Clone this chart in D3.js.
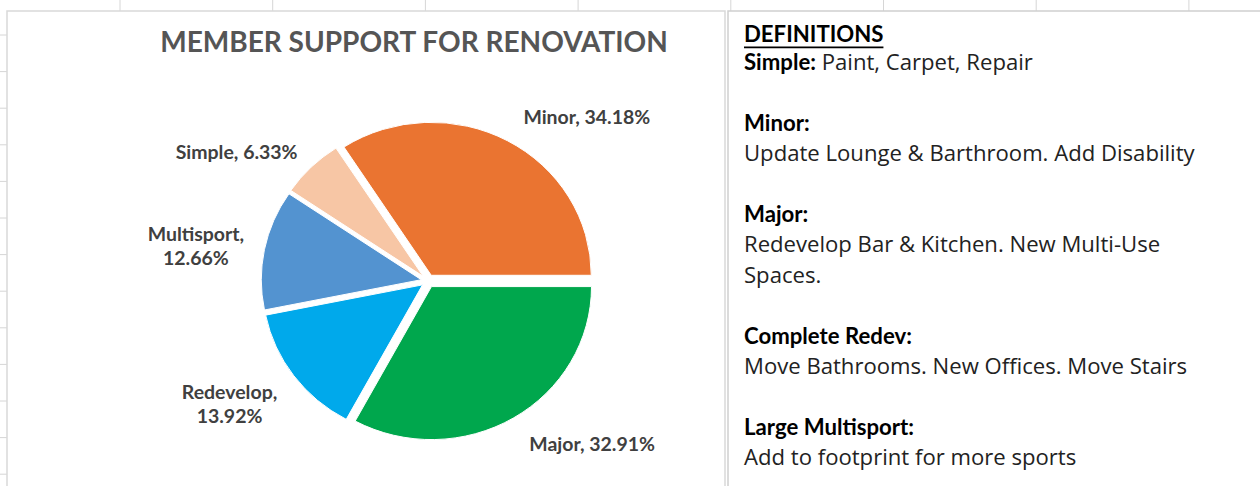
<!DOCTYPE html>
<html><head><meta charset="utf-8">
<script src="https://cdn.jsdelivr.net/npm/d3@7"></script>
<style>html,body{margin:0;padding:0;background:#fff;overflow:hidden}</style>
</head><body>
<svg id="chart" width="1260" height="486"></svg>
<script>
// ---------- data ----------
const chartTitle = "MEMBER SUPPORT FOR RENOVATION";
const categories = ["Simple", "Minor", "Major", "Redevelop", "Multisport"];
const values = [6.33, 34.18, 32.91, 13.92, 12.66];
const sliceColors = ["#F7C6A5", "#EA7431", "#00A74D", "#00A9EB", "#5393D0"];
const labelWrap = [false, false, false, true, true];
const labelAngleShift = [-10, 14, -13.5, 4, -2]; // degrees, best-fit nudges
const defHeading = "DEFINITIONS";
const defTerms = ["Simple:", "Minor:", "Major:", "Complete Redev:", "Large Multisport:"];
const defTexts = [
  ["Paint, Carpet, Repair"],
  ["Update Lounge & Barthroom. Add Disability"],
  ["Redevelop Bar & Kitchen. New Multi-Use", "Spaces."],
  ["Move Bathrooms. New Offices. Move Stairs"],
  ["Add to footprint for more sports"]
];

// ---------- setup ----------
const svg = d3.select("#chart");
const gridColor = "#d6d6d6";

function measure(str, family, weight, size) {
  const t = svg.append("text").attr("font-family", family).attr("font-weight", weight)
    .attr("font-size", size).text(str);
  const w = t.node().getComputedTextLength();
  t.remove();
  return w;
}
function fitSize(str, family, weight, target) {
  return 20 * target / measure(str, family, weight, 20);
}

// spreadsheet grid stubs
const colX = d3.range(8).map(i => 120 + i * 152.7);
const rowY = d3.range(13).map(i => 35 + i * 36.6);
svg.append("g").selectAll("line").data(colX).join("line")
  .attr("x1", d => d).attr("x2", d => d).attr("y1", 0).attr("y2", 12)
  .attr("stroke", gridColor).attr("stroke-width", 1);
svg.append("g").selectAll("line").data(rowY).join("line")
  .attr("x1", 0).attr("x2", 8).attr("y1", d => d).attr("y2", d => d)
  .attr("stroke", gridColor).attr("stroke-width", 1);

// boxes
svg.append("rect").attr("x", 7).attr("y", 11).attr("width", 718).attr("height", 520)
  .attr("fill", "#fff").attr("stroke", "#d9d9d9").attr("stroke-width", 1.5);
svg.append("rect").attr("x", 728).attr("y", 11).attr("width", 600).attr("height", 520)
  .attr("fill", "#fff").attr("stroke", "#cfcfcf").attr("stroke-width", 1.5);

// ---------- title ----------
const chartFont = "Lato, 'Open Sans', sans-serif";
const titleSize = fitSize(chartTitle, chartFont, 700, 508);
svg.append("text").attr("x", 414).attr("y", 52)
  .attr("text-anchor", "middle").attr("font-family", chartFont).attr("font-weight", 700)
  .attr("font-size", titleSize).attr("fill", "#555555").text(chartTitle);

// ---------- pie ----------
const cx = 428, cy = 281, r = 153, sx = 1.046, explode = 6.5;
const data = categories.map((c, i) => ({ cat: c, value: values[i], color: sliceColors[i], wrap: labelWrap[i], shift: labelAngleShift[i] }));
const total = d3.sum(values);
const a0 = Math.PI / 2 - 2 * Math.PI * (values[0] + values[1]) / total;
const pie = d3.pie().sort(null).value(d => d.value).startAngle(a0).endAngle(a0 + 2 * Math.PI);
const arcs = pie(data);
const arc = d3.arc().innerRadius(0).outerRadius(r);

const pg = svg.append("g").attr("transform", `translate(${cx},${cy}) scale(${sx},1)`);
pg.selectAll("path").data(arcs).join("path")
  .attr("d", arc)
  .attr("transform", d => {
    const m = (d.startAngle + d.endAngle) / 2;
    return `translate(${explode * Math.sin(m)},${-explode * Math.cos(m)})`;
  })
  .attr("fill", d => d.data.color)
  .attr("stroke", "#fff").attr("stroke-width", 1).attr("vector-effect", "non-scaling-stroke");

// labels
const labelSize = fitSize("Minor, 34.18%", chartFont, 700, 127);
const lineH = 24;
const labelR = r * 1.47;
const lg = svg.append("g").attr("transform", `translate(${cx},${cy})`);
arcs.forEach(d => {
  const m = (d.startAngle + d.endAngle) / 2 + d.data.shift * Math.PI / 180;
  const x = sx * labelR * Math.sin(m), y = -labelR * Math.cos(m);
  const lines = d.data.wrap
    ? [d.data.cat + ",", d.data.value.toFixed(2) + "%"]
    : [d.data.cat + ", " + d.data.value.toFixed(2) + "%"];
  const t = lg.append("text").attr("text-anchor", "middle")
    .attr("font-family", chartFont).attr("font-weight", 700)
    .attr("font-size", labelSize).attr("fill", "#404040");
  lines.forEach((ln, i) => {
    t.append("tspan").attr("x", x)
      .attr("y", y + (i - (lines.length - 1) / 2) * lineH + labelSize * 0.36 + 2)
      .text(ln);
  });
});

// ---------- definitions panel ----------
const panelFont = "'Open Sans', sans-serif";
const boldFont = "Lato, 'Open Sans', sans-serif";
const panelSize = fitSize(defTexts[1][0], panelFont, 400, 451);
const boldSize = fitSize(defTerms[3], boldFont, 700, 168);
const px = 744, base0 = 70, step = 30.4;
const pnl = svg.append("g").attr("font-family", panelFont).attr("font-size", panelSize);
const head = pnl.append("text").attr("x", px).attr("y", 41.7)
  .attr("font-family", boldFont).attr("font-size", boldSize)
  .attr("font-weight", 700).attr("fill", "#000").text(defHeading);
const hw = head.node().getComputedTextLength();
pnl.append("line").attr("x1", px).attr("x2", px + hw).attr("y1", 47.3).attr("y2", 47.3)
  .attr("stroke", "#000").attr("stroke-width", 1.7);

let k = 0;
defTerms.forEach((term, i) => {
  if (i === 0) {
    const t = pnl.append("text").attr("x", px).attr("y", base0 + k * step);
    t.append("tspan").attr("font-family", boldFont).attr("font-size", boldSize)
      .attr("font-weight", 700).attr("fill", "#000").text(term);
    t.append("tspan").attr("fill", "#222").text(" " + defTexts[i][0]);
    k += 1;
  } else {
    k += 1;
    pnl.append("text").attr("x", px).attr("y", base0 + k * step)
      .attr("font-family", boldFont).attr("font-size", boldSize)
      .attr("font-weight", 700).attr("fill", "#000").text(term);
    k += 1;
    defTexts[i].forEach(ln => {
      pnl.append("text").attr("x", px).attr("y", base0 + k * step)
        .attr("fill", "#222").text(ln);
      k += 1;
    });
  }
});
</script>
</body></html>
